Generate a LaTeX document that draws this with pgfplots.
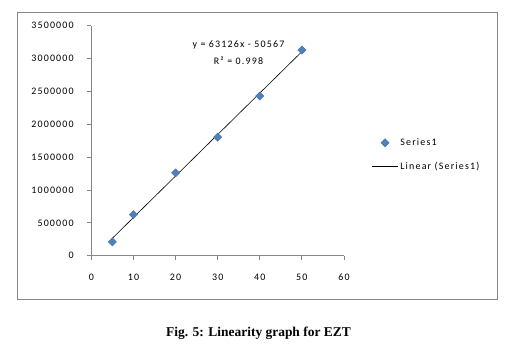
\documentclass[border=0pt]{standalone}
\usepackage{pgfplots}
\pgfplotsset{compat=1.18}
\usepackage{fontspec}
\setmainfont{Carlito}[LetterSpace=12]
\newfontfamily\capfont{Liberation Serif}
\definecolor{axgray}{HTML}{868686}
\definecolor{mblue}{HTML}{4F81BD}
\definecolor{mblueedge}{HTML}{3F72AF}
\pgfplotsset{
  markleg/.style={legend image code/.code={\draw[mark repeat=2,mark phase=2,##1] plot coordinates {(0bp,0bp) (13bp,0bp) (26bp,0bp)};}},
  lineleg/.style={legend image code/.code={\draw[##1] (0bp,0bp) -- (26bp,0bp);}},
}
\begin{document}
\begin{tikzpicture}[x=1bp,y=1bp]
\path (0,0) rectangle (507,353);
\draw[axgray, line width=0.8bp] (17.5,54) rectangle (497,341);
\begin{axis}[
  at={(91.3bp,97.3bp)}, anchor=south west,
  scale only axis, width=252.7bp, height=230bp,
  xmin=0, xmax=60, ymin=0, ymax=3500000,
  xtick={0,10,20,30,40,50,60},
  ytick={0,500000,1000000,1500000,2000000,2500000,3000000,3500000},
  axis lines=left,
  axis line style={axgray, line width=0.8bp, -},
  tick style={axgray, line width=0.8bp},
  tick align=outside, major tick length=4bp,
  scaled y ticks=false,
  /pgf/number format/assume math mode=true,
  tick label style={font=\fontsize{10}{12}\selectfont, text=black},
  xticklabel style={yshift=-11bp},
  yticklabel style={/pgf/number format/fixed, /pgf/number format/1000 sep={}, xshift=-10bp},
  legend style={draw=none, fill=none, at={(axis description cs:1.101,0.439)}, anchor=west,
    font=\fontsize{10}{12}\selectfont, row sep=11bp, inner sep=2bp},
  legend cell align=left,
]
\addplot[only marks, mark=square*, mark size=2.9bp, mark options={rotate=45, fill=mblue, draw=mblueedge, line width=0.4bp}, markleg]
  coordinates {(5,210000) (10,625000) (20,1260000) (30,1805000) (40,2430000) (50,3130000)};
\addlegendentry{Series1}
\addplot[black, line width=0.6bp, lineleg]
  coordinates {(5,265063) (50,3105733)};
\addlegendentry{Linear (Series1)}
\end{axis}
\node[font=\fontsize{10}{12}\selectfont] at (238.5,308) {y = 63126x - 50567};
\node[font=\fontsize{10}{12}\selectfont] at (238.5,292) {R² = 0.998};
\node[font=\capfont\bfseries\fontsize{13.5}{15}\selectfont] at (258.5,20) {Fig. 5: Linearity graph for EZT};
\end{tikzpicture}
\end{document}
